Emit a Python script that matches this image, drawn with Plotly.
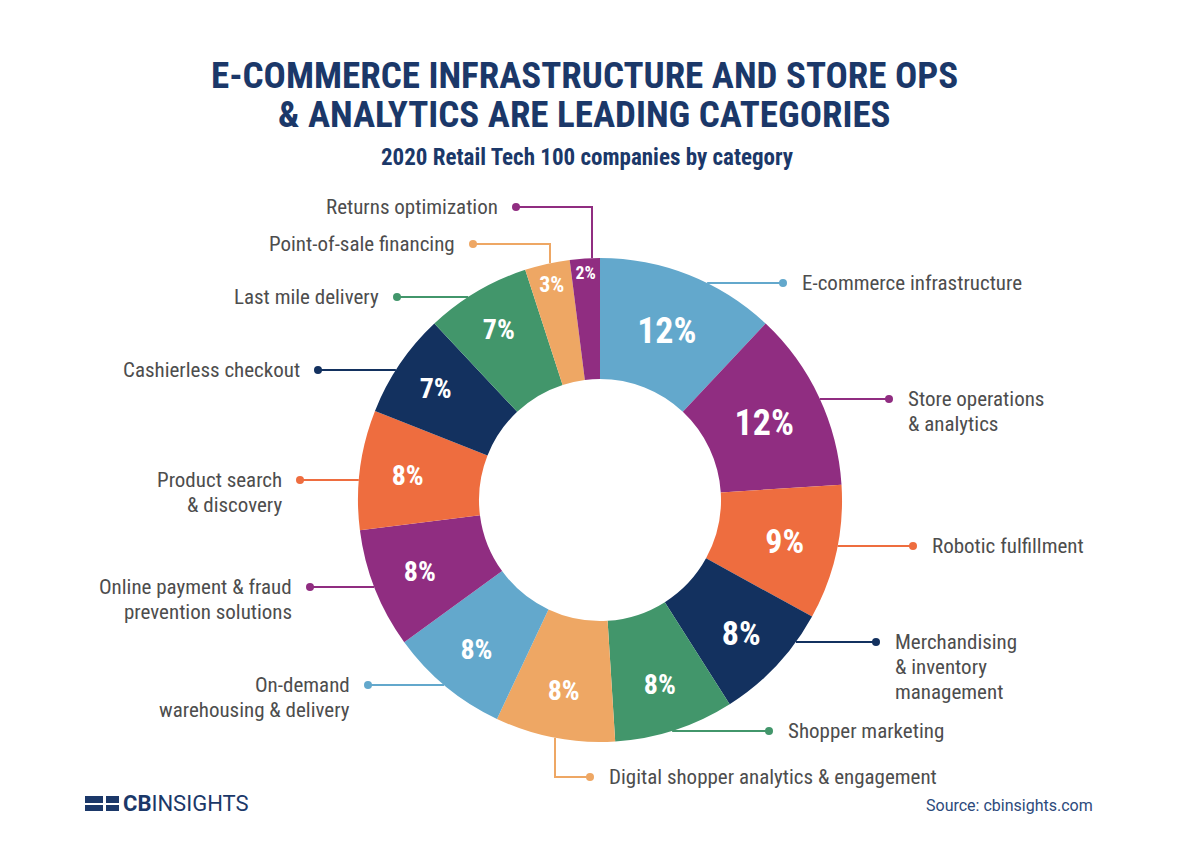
import math
import plotly.graph_objects as go

W, H = 1200, 847

# ---------------- data ----------------
categories = [
    "E-commerce infrastructure",
    "Store operations & analytics",
    "Robotic fulfillment",
    "Merchandising & inventory management",
    "Shopper marketing",
    "Digital shopper analytics & engagement",
    "On-demand warehousing & delivery",
    "Online payment & fraud prevention solutions",
    "Product search & discovery",
    "Cashierless checkout",
    "Last mile delivery",
    "Point-of-sale financing",
    "Returns optimization",
]
values = [12, 12, 9, 8, 8, 8, 8, 8, 8, 7, 7, 3, 2]

# ---------------- styles ----------------
LBLUE, PURPLE, ORANGE, NAVY, GREEN, LORANGE = (
    "#63a8cc", "#902d81", "#ee6d3f", "#13315f", "#42966b", "#eea764")
colors = [LBLUE, PURPLE, ORANGE, NAVY, GREEN, LORANGE,
          LBLUE, PURPLE, ORANGE, NAVY, GREEN, LORANGE, PURPLE]
pct_sizes = [36, 36, 34, 34, 28, 28, 28, 28, 28, 28, 28, 22, 22]

COND = "Roboto Condensed, Liberation Sans Narrow, Arial Narrow, Roboto, sans-serif"
TITLE_C = "#1b3869"
LABEL_C = "#4d4d4d"

# donut geometry (pixels)
CX, CY, R = 600, 500, 242


def px(x):
    return x / W


def py(y):
    return 1 - y / H


# label layout: (lines, dot_x, dot_y, side, elbow_x)
label_layout = [
    (["E-commerce infrastructure"], 783, 283, "r", None),
    (["Store operations", "& analytics"], 889, 399, "r", None),
    (["Robotic fulfillment"], 913, 546, "r", None),
    (["Merchandising", "& inventory", "management"], 876, 642, "r", None),
    (["Shopper marketing"], 769, 731, "r", None),
    (["Digital shopper analytics & engagement"], 590, 777, "r", 555),
    (["On-demand", "warehousing & delivery"], 368, 685, "l", None),
    (["Online payment & fraud", "prevention solutions"], 310, 587, "l", None),
    (["Product search", "& discovery"], 300, 480, "l", None),
    (["Cashierless checkout"], 318, 370, "l", None),
    (["Last mile delivery"], 397, 297, "l", None),
    (["Point-of-sale financing"], 473, 244, "l", 550),
    (["Returns optimization"], 516, 207, "l", 592),
]

fig = go.Figure()
fig.add_trace(go.Pie(
    labels=categories,
    values=values,
    sort=False,
    direction="clockwise",
    rotation=0,
    hole=0.5,
    marker=dict(colors=colors, line=dict(width=0)),
    texttemplate="<b>%{percent:.0%}</b>",
    textposition="inside",
    insidetextorientation="horizontal",
    textfont=dict(family=COND, color="white", size=pct_sizes),
    domain=dict(x=[px(CX - R), px(CX + R)], y=[py(CY + R), py(CY - R)]),
    showlegend=False,
    hoverinfo="label+value",
))

shapes = []
annotations = []

for (lines, dx, dy, side, ex), col in zip(label_layout, colors):
    if ex is None:
        off = math.sqrt(max(R * R - (dy - CY) ** 2, 0))
        sx = CX + off if side == "r" else CX - off
        pts = [(sx, dy), (dx, dy)]
    else:
        off = math.sqrt(max(R * R - (ex - CX) ** 2, 0))
        sy = CY + off if dy > CY else CY - off
        pts = [(ex, sy), (ex, dy), (dx, dy)]
    path = "M " + " L ".join(f"{px(a):.5f},{py(b):.5f}" for a, b in pts)
    shapes.append(dict(type="path", xref="paper", yref="paper", path=path,
                       line=dict(color=col, width=2)))
    shapes.append(dict(type="circle", xref="paper", yref="paper",
                       xsizemode="pixel", ysizemode="pixel",
                       xanchor=px(dx), yanchor=py(dy),
                       x0=-4, x1=4, y0=-4, y1=4,
                       fillcolor=col, line=dict(width=0)))
    tx = dx + 17 if side == "r" else dx - 16
    for i, t in enumerate(lines):
        annotations.append(dict(
            text=t, x=px(tx), y=py(dy + i * 25), xref="paper", yref="paper",
            xanchor="left" if side == "r" else "right", yanchor="middle",
            showarrow=False, font=dict(family=COND, size=21, color=LABEL_C)))

# titles
annotations += [
    dict(text="<b>E-COMMERCE INFRASTRUCTURE AND STORE OPS</b>", x=px(584), y=py(75),
         xref="paper", yref="paper", showarrow=False, xanchor="center", yanchor="middle",
         height=36, font=dict(family=COND, size=37, color=TITLE_C)),
    dict(text="<b>&amp; ANALYTICS ARE LEADING CATEGORIES</b>", x=px(584), y=py(114),
         xref="paper", yref="paper", showarrow=False, xanchor="center", yanchor="middle",
         height=36, font=dict(family=COND, size=37, color=TITLE_C)),
    dict(text="<b>2020 Retail Tech 100 companies by category</b>", x=px(587), y=py(157),
         xref="paper", yref="paper", showarrow=False, xanchor="center", yanchor="middle",
         font=dict(family=COND, size=23, color=TITLE_C)),
    dict(text="Source: cbinsights.com", x=px(1095), y=py(805),
         xref="paper", yref="paper", showarrow=False, xanchor="right", yanchor="middle",
         font=dict(family="Roboto, sans-serif", size=16, color="#2d4a7c")),
    dict(text="<b>CB</b>INSIGHTS", x=px(121), y=py(803),
         xref="paper", yref="paper", showarrow=False, xanchor="left", yanchor="middle",
         font=dict(family="Roboto, sans-serif", size=22, color=TITLE_C)),
]

# CB Insights logo icon (blocks)
for (x0, y0, x1, y1) in [(85, 796, 103, 803), (85, 805, 103, 811),
                         (106, 796, 119, 803), (106, 805, 119, 811)]:
    shapes.append(dict(type="rect", xref="paper", yref="paper",
                       x0=px(x0), x1=px(x1), y0=py(y1), y1=py(y0),
                       fillcolor=TITLE_C, line=dict(width=0)))

fig.update_layout(
    width=W, height=H,
    margin=dict(l=0, r=0, t=0, b=0),
    paper_bgcolor="white", plot_bgcolor="white",
    shapes=shapes, annotations=annotations,
)

fig.write_html("out.html", config={"displayModeBar": False},
               post_script="document.body.style.margin='0';")
